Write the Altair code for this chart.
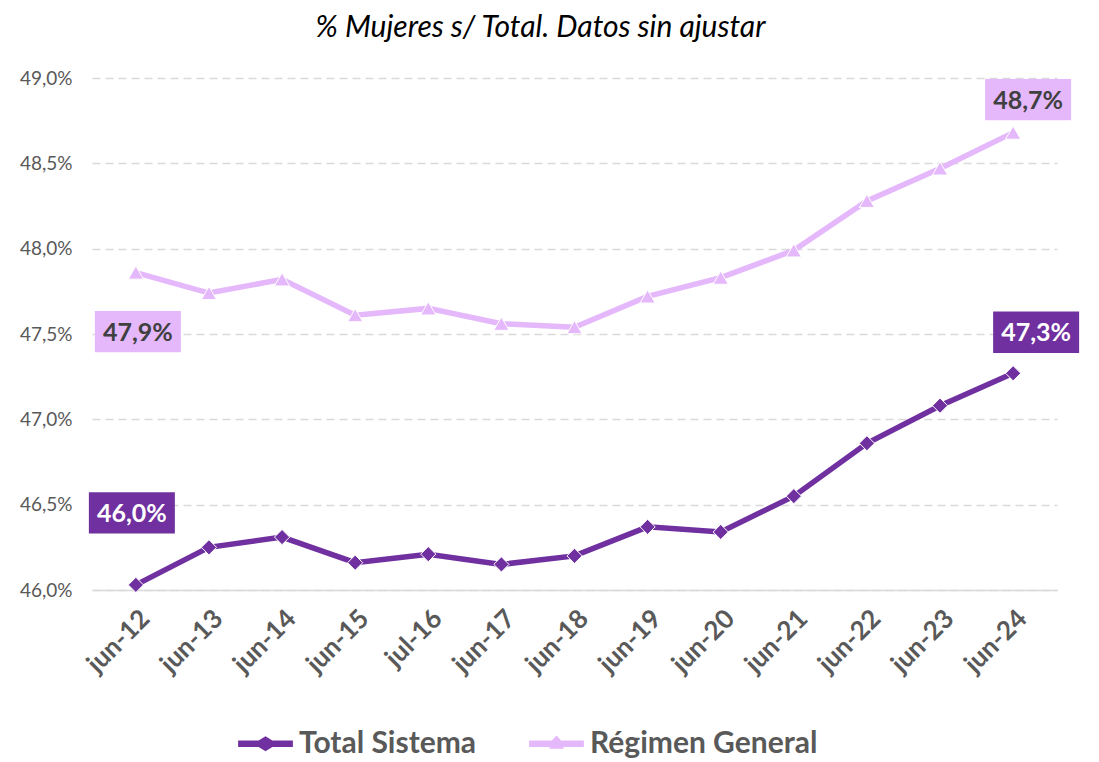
import altair as alt
import pandas as pd

categories = ["jun-12", "jun-13", "jun-14", "jun-15", "jul-16", "jun-17", "jun-18",
              "jun-19", "jun-20", "jun-21", "jun-22", "jun-23", "jun-24"]
total_sistema = [46.03, 46.25, 46.31, 46.16, 46.21, 46.15, 46.20,
                 46.37, 46.34, 46.55, 46.86, 47.08, 47.27]
regimen_general = [47.86, 47.74, 47.82, 47.61, 47.65, 47.56, 47.54,
                   47.72, 47.83, 47.99, 48.28, 48.47, 48.68]
series_names = ["Total Sistema", "Régimen General"]
series_colors = ["#7030A0", "#E5B8FB"]
y_ticks = [46.0, 46.5, 47.0, 47.5, 48.0, 48.5, 49.0]

rows = []
for i, c in enumerate(categories):
    rows.append({"cat": c, "serie": series_names[0], "v": total_sistema[i]})
    rows.append({"cat": c, "serie": series_names[1], "v": regimen_general[i]})
df = pd.DataFrame(rows)

FONT = "Lato"
GREY = "#595959"

x_enc = alt.X("cat:N", sort=categories,
              scale=alt.Scale(type="point", padding=0.6),
              axis=alt.Axis(title=None, labelAngle=-45, labelFontSize=26,
                            labelFontWeight="bold", labelColor=GREY, labelFont=FONT,
                            ticks=False, domainColor="#D9D9D9", domainWidth=1.5,
                            labelPadding=15, grid=False))
y_enc = alt.Y("v:Q", scale=alt.Scale(domain=[46, 49], nice=False, zero=False),
              axis=alt.Axis(title=None, values=y_ticks,
                            labelExpr="replace(format(datum.value, '.1f'), '.', ',') + '%'",
                            labelFontSize=19, labelColor=GREY, labelFont=FONT,
                            ticks=False, domain=False, labelPadding=20,
                            grid=True, gridColor="#D9D9D9", gridWidth=1.5,
                            gridDash=[8, 5]))
color_enc = alt.Color("serie:N", scale=alt.Scale(domain=series_names, range=series_colors),
                      legend=None)

base = alt.Chart(df)
lines = base.mark_line(strokeWidth=5.5).encode(x=x_enc, y=y_enc, color=color_enc,
                                               detail="serie:N")
points = base.mark_point(filled=True, size=230, stroke="white", strokeWidth=1,
                         opacity=1).encode(
    x=alt.X("cat:N", sort=categories), y="v:Q", color=color_enc,
    shape=alt.Shape("serie:N", scale=alt.Scale(domain=series_names,
                                              range=["diamond", "triangle-up"]),
                    legend=None))

# legend (symbols drawn as line + marker)
leg_paths = [
    "M-1,-0.12 L-0.25,-0.12 L0,-0.27 L0.25,-0.12 L1,-0.12 L1,0.12 L0.25,0.12 L0,0.27 L-0.25,0.12 L-1,0.12 Z",
    "M-1,-0.12 L-0.17,-0.12 L0,-0.3 L0.17,-0.12 L1,-0.12 L1,0.12 L0.24,0.12 L0.27,0.18 L-0.27,0.18 L-0.24,0.12 L-1,0.12 Z",
]
leg = alt.Legend(title=None, orient="none", direction="horizontal",
                 legendX=146, legendY=638,
                 labelFontSize=30, labelFontWeight="bold",
                 labelColor=GREY, labelFont=FONT, labelLimit=400,
                 symbolSize=3000, symbolStrokeWidth=0,
                 labelOffset=6, columnPadding=52)
legend_layer = base.mark_point(filled=True, opacity=1).encode(
    x=alt.X("cat:N", sort=categories), y="v:Q",
    color=alt.Color("serie:N", scale=alt.Scale(domain=series_names, range=series_colors),
                    legend=leg),
    shape=alt.Shape("serie:N", scale=alt.Scale(domain=series_names, range=leg_paths),
                    legend=leg),
).transform_filter("false")

# data label boxes
box_path = "M-1,-0.48 L1,-0.48 L1,0.48 L-1,0.48 Z"


def label(cat, serie, fill, tcolor, dx, dy):
    d = df[(df.cat == cat) & (df.serie == serie)].copy()
    d["txt"] = d["v"].map(lambda v: f"{v:.1f}".replace(".", ",") + "%")
    b = alt.Chart(d)
    box = b.mark_point(filled=True, shape=box_path, size=86 * 86, color=fill,
                       opacity=1, strokeWidth=0, xOffset=dx, yOffset=dy).encode(
        x=alt.X("cat:N", sort=categories), y="v:Q")
    txt = b.mark_text(font=FONT, fontSize=25, fontWeight="bold", color=tcolor,
                      dx=dx, dy=dy + 1, baseline="middle", align="center").encode(
        x=alt.X("cat:N", sort=categories), y="v:Q", text="txt:N")
    return [box, txt]


labels = []
labels += label("jun-12", "Total Sistema", "#7030A0", "white", -4, -72)
labels += label("jun-24", "Total Sistema", "#7030A0", "white", 23, -41)
labels += label("jun-12", "Régimen General", "#E5B8FB", "#404040", 2, 59)
labels += label("jun-24", "Régimen General", "#E5B8FB", "#404040", 15, -33)

chart = alt.layer(lines, points, *labels, legend_layer).resolve_scale(
    shape="independent", color="independent"
).properties(
    width=965, height=512,
    autosize=alt.AutoSizeParams(type="none"),
    padding={"left": 84, "top": 70, "right": 30, "bottom": 172},
    title=alt.TitleParams("% Mujeres s/ Total. Datos sin ajustar", font=FONT,
                          fontSize=30, fontStyle="italic", fontWeight="normal",
                          color="#000000", anchor="middle", dx=-34, offset=26),
).configure_view(stroke=None).configure_legend(labelFontWeight="bold")

chart.save("out.html", embed_options={"renderer": "svg", "actions": False})
